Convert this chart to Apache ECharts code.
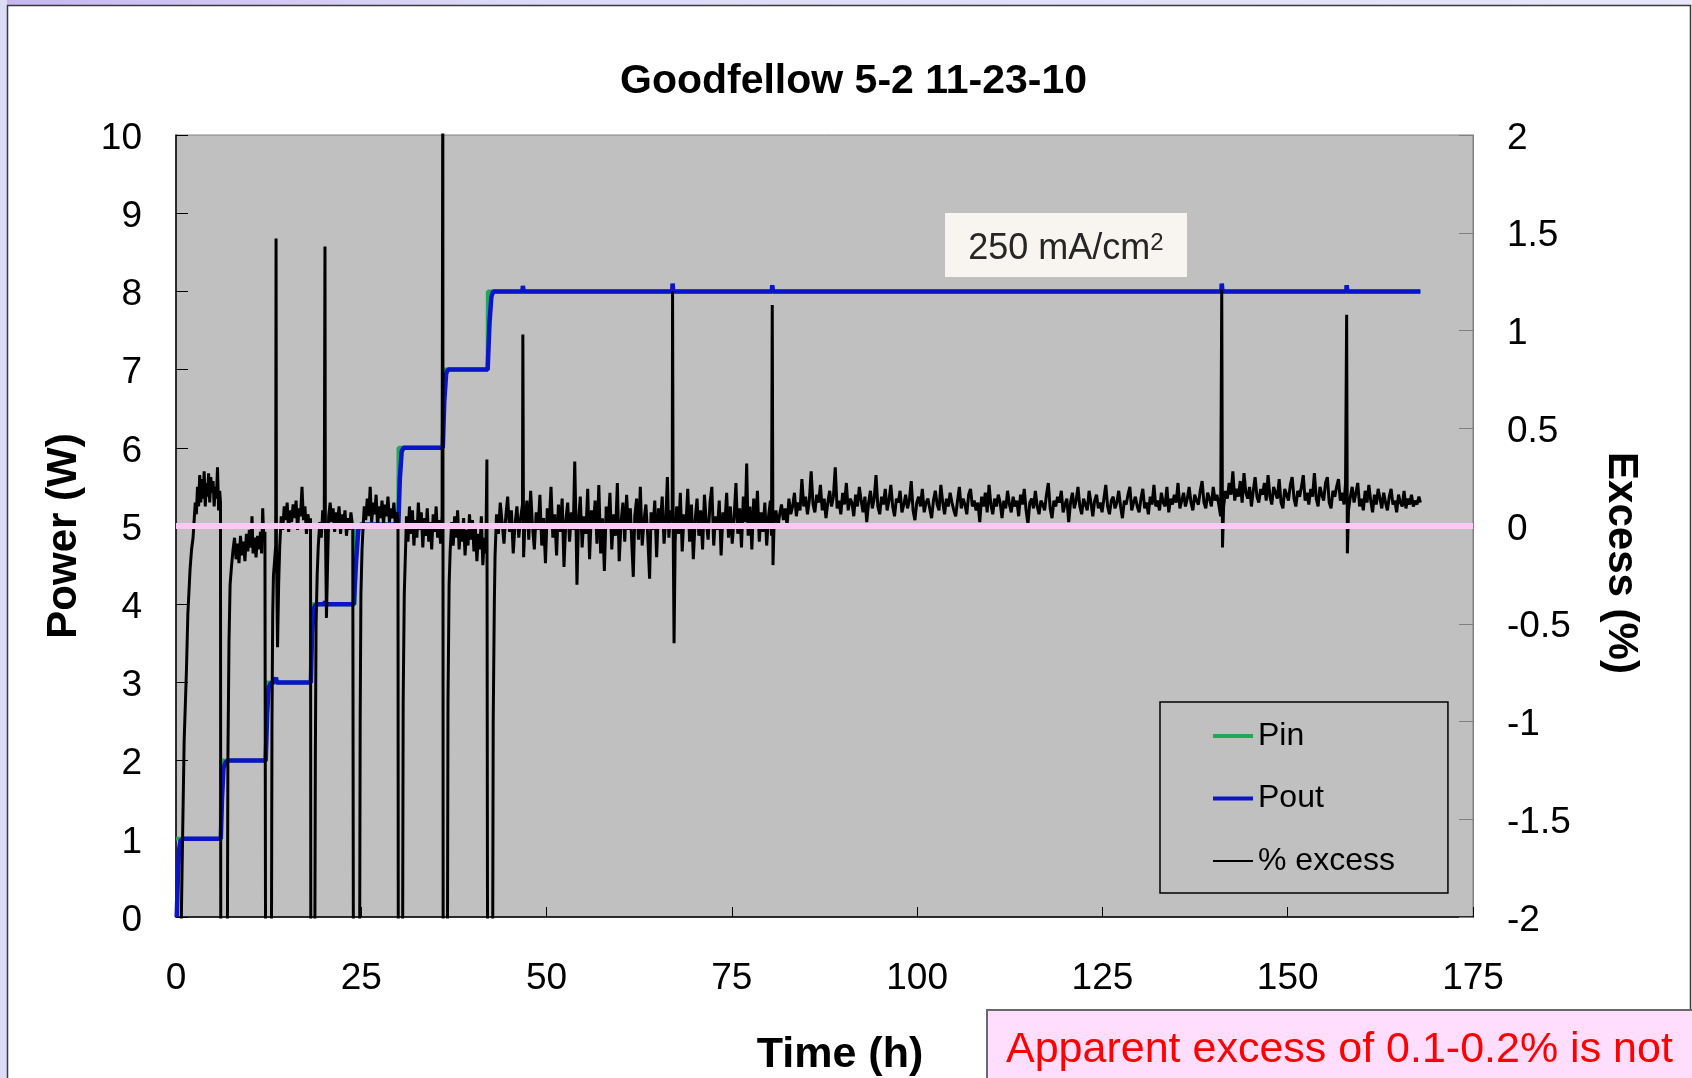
<!DOCTYPE html>
<html>
<head>
<meta charset="utf-8">
<title>Goodfellow 5-2 11-23-10</title>
<script src="https://cdn.jsdelivr.net/npm/echarts@6/dist/echarts.min.js"></script>
<style>
  html, body { margin: 0; padding: 0; background: #ffffff; }
  #chart { width: 1692px; height: 1078px; }
</style>
</head>
<body>
<div id="chart"></div>
<script>
// Input power (W) vs. time (h): step changes of 1 W every ~6 h up to 8 W
const pinData = [
  [0, 1], [6.05, 1], [6.08, 2], [12.15, 2], [12.18, 3], [18.2, 3], [18.23, 4],
  [24.1, 4], [24.13, 5], [30.0, 5], [30.03, 6], [36.0, 6], [36.03, 7],
  [42.05, 7], [42.08, 8], [167.9, 8]
];

// Output power (W): lags each input step slightly
const poutData = [
  [0.1, 0], [0.25, 0.5], [0.4, 0.85], [0.6, 0.97], [0.9, 1.0], [6.05, 1.0],
  [6.2, 1.5], [6.4, 1.9], [6.7, 1.98], [7.0, 2.0], [12.1, 2.0], [12.3, 2.6],
  [12.5, 2.93], [12.8, 2.99], [13.2, 3.0], [13.45, 3.0], [13.5, 3.06], [13.6, 3.0],
  [18.2, 3.0], [18.35, 3.6], [18.55, 3.93], [18.8, 3.99], [19.2, 4.0], [20.05, 4.0],
  [20.1, 4.04], [20.2, 4.0], [24.0, 4.0], [24.3, 4.55], [24.6, 4.95], [24.9, 5.02],
  [30.0, 5.02], [30.2, 5.6], [30.45, 5.95], [30.7, 6.0], [36.0, 6.0], [36.2, 6.6],
  [36.45, 6.95], [36.7, 7.0], [42.05, 7.0], [42.3, 7.6], [42.55, 7.93], [42.8, 8.0],
  [46.75, 8.0], [46.8, 8.07], [46.9, 8.0], [66.95, 8.0], [67.0, 8.1], [67.1, 8.0],
  [80.4, 8.0], [80.45, 8.08], [80.55, 8.0], [141.05, 8.0], [141.1, 8.1], [141.2, 8.0],
  [157.9, 8.0], [157.95, 8.08], [158.05, 8.0], [167.9, 8.0]
];

// Excess (%) = (Pout - Pin) / Pin, right axis; dips at each step leave the axis range
const excessRamp = [
  [0.0, -2.6], [0.5, -2.6], [0.8, -1.8], [1.1, -1.1], [1.4, -0.75], [1.6, -0.45],
  [1.9, -0.22], [2.1, -0.12], [2.3, -0.06], [2.45, 0.03], [2.6, 0.12], [2.75, 0.06],
  [2.9, 0.2], [3.05, 0.1], [3.2, 0.26], [3.35, 0.12], [3.5, 0.24], [3.65, 0.14],
  [3.8, 0.28], [3.95, 0.1], [4.1, 0.22], [4.25, 0.15], [4.4, 0.27], [4.55, 0.12],
  [4.7, 0.25], [4.85, 0.17], [5.0, 0.23], [5.15, 0.1], [5.3, 0.2], [5.45, 0.14],
  [5.6, 0.3], [5.75, 0.08], [5.9, 0.18], [6.0, 0.12],
  [6.05, -2.6], [6.9, -2.6], [7.0, -1.2], [7.15, -0.6], [7.3, -0.3], [7.5, -0.2],
  [7.7, -0.12], [7.9, -0.06], [8.1, -0.17], [8.3, -0.09], [8.5, -0.19], [8.7, -0.05],
  [8.9, -0.15], [9.1, -0.08], [9.3, -0.18], [9.5, -0.04], [9.7, -0.13], [9.9, -0.02],
  [10.1, -0.11], [10.25, 0.05], [10.4, -0.14], [10.6, -0.06], [10.8, -0.16], [11.0, -0.05],
  [11.2, -0.12], [11.4, -0.03], [11.55, -0.14], [11.7, 0.09], [11.85, -0.08], [12.0, -0.03],
  [12.1, -2.6], [12.85, -2.6], [12.95, -1.0], [13.05, -0.45], [13.15, -0.25], [13.3, -0.18],
  [13.45, -0.1], [13.5, 1.47], [13.55, -0.1], [13.7, -0.62], [13.85, -0.3], [14.0, -0.1],
  [14.2, 0.05], [14.4, -0.02], [14.6, 0.1], [14.8, 0.03], [15.0, 0.12], [15.2, -0.03],
  [15.4, 0.08], [15.6, 0.02], [15.8, 0.11], [16.0, 0.04], [16.2, 0.13], [16.4, -0.02],
  [16.6, 0.09], [16.8, 0.05], [17.0, 0.2], [17.2, 0.03], [17.4, 0.1], [17.6, -0.04],
  [17.8, 0.06], [18.0, 0.0], [18.15, 0.04],
  [18.2, -2.6], [18.7, -2.6], [18.8, -1.2], [18.9, -0.5], [19.05, -0.25], [19.2, -0.1],
  [19.4, 0.02], [19.6, -0.06], [19.8, 0.08], [20.0, 0.0], [20.1, 1.43], [20.15, 0.05],
  [20.3, -0.47], [20.45, -0.2], [20.6, 0.05], [20.8, 0.12], [21.0, 0.02], [21.2, 0.09],
  [21.4, -0.03], [21.6, 0.07], [21.8, 0.01], [22.0, 0.1], [22.2, -0.04], [22.4, 0.06],
  [22.6, 0.0], [22.8, 0.08], [23.0, -0.05], [23.2, 0.04], [23.4, -0.02], [23.6, 0.07],
  [23.85, -0.01],
  [23.95, -2.6], [24.75, -2.6], [24.85, -1.0], [24.95, -0.35], [25.1, -0.12], [25.25, 0.0],
  [25.4, 0.1], [25.6, 0.03], [25.8, 0.14], [26.0, 0.05], [26.2, 0.2], [26.4, 0.02],
  [26.6, 0.12], [26.8, 0.06], [27.0, 0.16], [27.2, 0.0], [27.4, 0.1], [27.6, 0.04],
  [27.8, 0.13], [28.0, 0.01], [28.2, 0.11], [28.4, 0.05], [28.6, 0.15], [28.8, 0.02],
  [29.0, 0.09], [29.2, 0.04], [29.4, 0.12], [29.6, 0.0], [29.8, 0.07], [29.95, 0.03],
  [30.0, -2.6], [30.55, -2.6], [30.65, -0.9], [30.8, -0.35], [30.95, -0.15], [31.1, 0.05],
  [31.3, -0.08], [31.5, 0.1], [31.7, -0.04], [31.9, 0.08], [32.1, -0.1], [32.3, 0.03],
  [32.5, -0.06], [32.7, 0.12], [32.9, -0.02], [33.1, 0.07], [33.3, -0.11], [33.5, 0.04],
  [33.7, -0.05], [33.9, 0.09], [34.1, -0.08], [34.3, 0.02], [34.5, -0.12], [34.7, 0.06],
  [34.9, -0.03], [35.1, 0.1], [35.3, -0.06], [35.5, 0.03], [35.7, -0.09], [35.9, 0.05],
  [36.0, 2.4], [36.05, -2.6], [36.6, -2.6], [36.7, -0.9], [36.85, -0.3], [37.0, -0.12],
  [37.2, 0.02], [37.4, -0.1], [37.6, 0.05], [37.8, -0.06], [38.0, 0.08], [38.2, -0.12],
  [38.4, 0.0], [38.6, -0.08], [38.8, 0.04], [39.0, -0.15], [39.2, -0.02], [39.4, -0.1],
  [39.6, 0.06], [39.8, -0.07], [40.0, 0.03], [40.2, -0.13], [40.4, -0.01], [40.6, -0.18],
  [40.8, -0.04], [41.0, -0.12], [41.2, 0.05], [41.4, -0.2], [41.6, -0.06], [41.8, -0.14],
  [41.95, 0.34], [42.05, -2.6], [42.7, -2.6], [42.8, -1.0], [42.95, -0.4], [43.05, -0.15]
];

// Excess (%) at constant 8 W input, before the baseline shift near 80 h
const excessHoldEarly = [
  [43.25, 0.06], [43.5, -0.04], [43.75, 0.12], [44.0, 0.02], [44.25, -0.09], [44.5, 0.05],
  [44.75, 0.15], [45.0, -0.03], [45.25, 0.08], [45.5, -0.14], [45.75, 0.01], [46.0, 0.1],
  [46.25, -0.06], [46.5, 0.04], [46.75, 0.11], [46.8, 0.98], [46.9, -0.16], [47.1, 0.03],
  [47.35, 0.13], [47.6, -0.07], [47.85, 0.18], [48.1, 0.0], [48.35, -0.12], [48.6, 0.07],
  [48.85, -0.02], [49.1, 0.16], [49.35, -0.1], [49.6, 0.04], [49.85, -0.19], [50.1, 0.09],
  [50.35, 0.01], [50.6, 0.2], [50.85, -0.06], [51.1, 0.06], [51.35, -0.15], [51.6, 0.11],
  [51.85, -0.03], [52.1, 0.14], [52.35, -0.21], [52.6, 0.03], [52.85, 0.12], [53.1, -0.08],
  [53.35, 0.07], [53.6, -0.02], [53.8, 0.33], [54.0, -0.05], [54.1, -0.3], [54.3, 0.02],
  [54.55, 0.15], [54.8, -0.11], [55.05, 0.05], [55.3, -0.04], [55.55, 0.19], [55.8, -0.17],
  [56.05, 0.08], [56.3, -0.01], [56.55, 0.13], [56.8, -0.09], [57.05, 0.21], [57.3, -0.14],
  [57.55, 0.04], [57.8, -0.23], [58.05, 0.1], [58.3, 0.0], [58.55, 0.17], [58.8, -0.12],
  [59.05, 0.06], [59.3, -0.05], [59.55, 0.22], [59.8, -0.18], [60.05, 0.02], [60.3, 0.12],
  [60.55, -0.08], [60.8, 0.16], [61.05, -0.02], [61.3, 0.09], [61.55, -0.13], [61.7, -0.26],
  [61.9, 0.05], [62.15, 0.14], [62.4, -0.07], [62.65, 0.2], [62.9, -0.1], [63.15, 0.03],
  [63.4, 0.11], [63.65, -0.05], [63.9, -0.27], [64.1, 0.07], [64.35, -0.02], [64.6, 0.13],
  [64.85, -0.16], [65.1, 0.09], [65.35, 0.01], [65.6, 0.15], [65.85, -0.09], [66.1, 0.04],
  [66.3, 0.25], [66.5, -0.06], [66.75, 0.08], [66.95, 0.02], [67.0, 1.2], [67.08, 0.0],
  [67.2, -0.6], [67.35, -0.08], [67.55, 0.1], [67.8, -0.04], [68.05, 0.17], [68.3, -0.13],
  [68.55, 0.06], [68.8, 0.0], [69.05, 0.19], [69.3, -0.08], [69.55, 0.11], [69.8, -0.17],
  [70.05, 0.03], [70.3, 0.14], [70.55, -0.05], [70.8, 0.08], [71.05, -0.12], [71.3, 0.16],
  [71.55, 0.02], [71.8, -0.07], [72.05, 0.12], [72.3, 0.2], [72.55, -0.1], [72.8, 0.05],
  [73.05, -0.02], [73.3, 0.13], [73.55, -0.15], [73.8, 0.07], [74.05, 0.01], [74.3, 0.17],
  [74.55, -0.06], [74.8, 0.1], [75.05, -0.09], [75.3, 0.04], [75.55, 0.22], [75.8, -0.04],
  [76.05, 0.09], [76.3, -0.11], [76.55, 0.15], [76.8, 0.02], [77.0, 0.32], [77.2, -0.05],
  [77.45, 0.1], [77.7, -0.12], [77.95, 0.14], [78.2, 0.0], [78.45, 0.18], [78.7, -0.08],
  [78.95, 0.07], [79.2, -0.03], [79.45, 0.12], [79.7, -0.1], [79.95, 0.05], [80.2, 0.13],
  [80.35, -0.05], [80.45, 1.13], [80.55, -0.2]
];

// Excess (%) at constant 8 W input, after the baseline shift
const excessHoldLate = [
  [80.7, 0.02], [80.95, 0.08], [81.2, -0.01], [81.45, 0.06], [81.7, 0.11], [81.95, 0.03],
  [82.2, 0.09], [82.45, 0.0], [82.7, 0.14], [82.95, 0.06], [83.2, 0.1], [83.45, 0.17],
  [83.7, 0.05], [83.95, 0.12], [84.2, 0.08], [84.45, 0.24], [84.7, 0.1], [84.95, 0.15],
  [85.2, 0.06], [85.45, 0.13], [85.7, 0.28], [85.95, 0.11], [86.2, 0.07], [86.45, 0.16],
  [86.7, 0.12], [86.95, 0.21], [87.2, 0.08], [87.45, 0.14], [87.7, 0.04], [87.95, 0.12],
  [88.2, 0.18], [88.45, 0.1], [88.7, 0.15], [88.95, 0.3], [89.2, 0.09], [89.45, 0.13],
  [89.7, 0.06], [89.95, 0.17], [90.2, 0.11], [90.45, 0.22], [90.7, 0.08], [90.95, 0.14],
  [91.2, 0.12], [91.45, 0.05], [91.7, 0.16], [91.95, 0.1], [92.2, 0.2], [92.45, 0.13],
  [92.7, 0.07], [92.95, 0.15], [93.2, 0.02], [93.45, 0.12], [93.7, 0.18], [93.95, 0.09],
  [94.2, 0.14], [94.45, 0.26], [94.7, 0.1], [94.95, 0.06], [95.2, 0.15], [95.45, 0.11],
  [95.7, 0.19], [95.95, 0.08], [96.2, 0.13], [96.45, 0.21], [96.7, 0.1], [96.95, 0.05],
  [97.2, 0.14], [97.45, 0.12], [97.7, 0.18], [97.95, 0.07], [98.2, 0.11], [98.45, 0.16],
  [98.7, 0.09], [98.95, 0.13], [99.2, 0.23], [99.45, 0.08], [99.7, 0.03], [99.95, 0.12],
  [100.2, 0.15], [100.45, 0.1], [100.7, 0.19], [100.95, 0.07], [101.2, 0.12], [101.45, 0.14],
  [101.7, 0.09], [101.95, 0.04], [102.2, 0.13], [102.45, 0.18], [102.7, 0.11], [102.95, 0.08],
  [103.2, 0.21], [103.45, 0.12], [103.7, 0.06], [103.95, 0.14], [104.2, 0.1], [104.45, 0.17],
  [104.7, 0.12], [104.95, 0.08], [105.2, 0.05], [105.45, 0.13], [105.7, 0.2], [105.95, 0.09],
  [106.2, 0.14], [106.45, 0.11], [106.7, 0.06], [106.95, 0.16], [107.2, 0.19], [107.45, 0.1],
  [107.7, 0.13], [107.95, 0.08], [108.2, 0.12], [108.45, 0.02], [108.7, 0.15], [108.95, 0.1],
  [109.2, 0.17], [109.45, 0.07], [109.7, 0.21], [109.95, 0.11], [110.2, 0.06], [110.45, 0.14],
  [110.7, 0.1], [110.95, 0.16], [111.2, 0.12], [111.45, 0.04], [111.7, 0.13], [111.95, 0.09],
  [112.2, 0.18], [112.45, 0.11], [112.7, 0.07], [112.95, 0.15], [113.2, 0.1], [113.45, 0.13],
  [113.7, 0.05], [113.95, 0.16], [114.2, 0.11], [114.45, 0.19], [114.7, 0.08], [114.95, 0.01],
  [115.2, 0.12], [115.45, 0.14], [115.7, 0.09], [115.95, 0.18], [116.2, 0.1], [116.45, 0.06],
  [116.7, 0.13], [116.95, 0.11], [117.2, 0.08], [117.45, 0.16], [117.7, 0.22], [117.95, 0.09],
  [118.2, 0.04], [118.45, 0.13], [118.7, 0.1], [118.95, 0.15], [119.2, 0.12], [119.45, 0.18],
  [119.7, 0.07], [119.95, 0.11], [120.2, 0.14], [120.45, 0.02], [120.7, 0.12], [120.95, 0.17],
  [121.2, 0.09], [121.45, 0.13], [121.7, 0.2], [121.95, 0.1], [122.2, 0.06], [122.45, 0.14],
  [122.7, 0.11], [122.95, 0.08], [123.2, 0.18], [123.45, 0.12], [123.7, 0.05], [123.95, 0.13],
  [124.2, 0.16], [124.45, 0.09], [124.7, 0.12], [124.95, 0.07], [125.2, 0.14], [125.45, 0.21],
  [125.7, 0.1], [125.95, 0.06], [126.2, 0.13], [126.45, 0.15], [126.7, 0.09], [126.95, 0.12],
  [127.2, 0.18], [127.45, 0.1], [127.7, 0.04], [127.95, 0.13], [128.2, 0.11], [128.45, 0.16],
  [128.7, 0.2], [128.95, 0.08], [129.2, 0.12], [129.45, 0.15], [129.7, 0.1], [129.95, 0.07],
  [130.2, 0.14], [130.45, 0.19], [130.7, 0.09], [130.95, 0.12], [131.2, 0.06], [131.45, 0.15],
  [131.7, 0.11], [131.95, 0.21], [132.2, 0.1], [132.45, 0.13], [132.7, 0.08], [132.95, 0.17],
  [133.2, 0.12], [133.45, 0.1], [133.7, 0.2], [133.95, 0.07], [134.2, 0.14], [134.45, 0.11],
  [134.7, 0.16], [134.95, 0.12], [135.2, 0.22], [135.45, 0.09], [135.7, 0.13], [135.95, 0.17],
  [136.2, 0.1], [136.45, 0.14], [136.7, 0.2], [136.95, 0.12], [137.2, 0.08], [137.45, 0.16],
  [137.7, 0.13], [137.95, 0.11], [138.2, 0.18], [138.45, 0.23], [138.7, 0.12], [138.95, 0.09],
  [139.2, 0.17], [139.45, 0.14], [139.7, 0.1], [139.95, 0.2], [140.2, 0.13], [140.45, 0.16],
  [140.7, 0.11], [140.95, 0.05], [141.1, 1.21], [141.2, -0.11], [141.35, 0.1], [141.6, 0.18],
  [141.85, 0.14], [142.1, 0.22], [142.35, 0.16], [142.6, 0.28], [142.85, 0.13], [143.1, 0.19],
  [143.35, 0.15], [143.6, 0.23], [143.85, 0.12], [144.1, 0.27], [144.35, 0.17], [144.6, 0.14],
  [144.85, 0.2], [145.1, 0.1], [145.35, 0.18], [145.6, 0.25], [145.85, 0.15], [146.1, 0.12],
  [146.35, 0.19], [146.6, 0.16], [146.85, 0.22], [147.1, 0.13], [147.35, 0.26], [147.6, 0.15],
  [147.85, 0.11], [148.1, 0.2], [148.35, 0.17], [148.6, 0.14], [148.85, 0.24], [149.1, 0.12],
  [149.35, 0.09], [149.6, 0.19], [149.85, 0.16], [150.1, 0.13], [150.35, 0.21], [150.6, 0.25],
  [150.85, 0.14], [151.1, 0.1], [151.35, 0.18], [151.6, 0.15], [151.85, 0.2], [152.1, 0.26],
  [152.35, 0.13], [152.6, 0.17], [152.85, 0.11], [153.1, 0.19], [153.35, 0.15], [153.6, 0.27],
  [153.85, 0.14], [154.1, 0.1], [154.35, 0.2], [154.6, 0.16], [154.85, 0.13], [155.1, 0.22],
  [155.35, 0.25], [155.6, 0.12], [155.85, 0.09], [156.1, 0.18], [156.35, 0.15], [156.6, 0.2],
  [156.85, 0.24], [157.1, 0.13], [157.35, 0.17], [157.6, 0.11], [157.8, 0.22], [157.95, 1.08],
  [158.05, -0.14], [158.2, 0.08], [158.45, 0.15], [158.7, 0.2], [158.95, 0.12], [159.2, 0.17],
  [159.45, 0.22], [159.7, 0.1], [159.95, 0.14], [160.2, 0.08], [160.45, 0.18], [160.7, 0.12],
  [160.95, 0.21], [161.2, 0.13], [161.45, 0.07], [161.7, 0.16], [161.95, 0.11], [162.2, 0.19],
  [162.45, 0.14], [162.7, 0.09], [162.95, 0.17], [163.2, 0.12], [163.45, 0.08], [163.7, 0.15],
  [163.95, 0.19], [164.2, 0.11], [164.45, 0.13], [164.7, 0.07], [164.95, 0.16], [165.2, 0.12],
  [165.45, 0.1], [165.7, 0.18], [165.95, 0.09], [166.2, 0.14], [166.45, 0.11], [166.7, 0.16],
  [166.95, 0.1], [167.2, 0.13], [167.45, 0.11], [167.7, 0.15], [167.9, 0.12]
];

// Reference line at zero excess
const zeroLine = [[0, 0], [175, 0]];

const seriesNames = ['Pin', 'Pout', '% excess'];
const chartTitle = 'Goodfellow 5-2 11-23-10';
const densityLabel = '250 mA/cm{sup|2}';
const noteText = 'Apparent excess of 0.1-0.2% is not';

const FONT = '"Liberation Sans", Arial, Helvetica, sans-serif';

// value labels on the vertical axes sit a few pixels below their ticks
const yLabel = {
  formatter: '{v|{value}}',
  rich: { v: { fontFamily: FONT, fontSize: 37, color: '#000', padding: [7, 0, 0, 0] } }
};

const chart = echarts.init(document.getElementById('chart'), null, { renderer: 'canvas' });

chart.setOption({
  animation: false,
  backgroundColor: '#ffffff',
  title: {
    text: chartTitle,
    left: 620,
    top: 61,
    padding: 0,
    textStyle: { fontFamily: FONT, fontSize: 41, fontWeight: 'bold', color: '#000' }
  },
  grid: {
    left: 176, right: 219, top: 135, bottom: 161,
    show: true,
    backgroundColor: '#C0C0C0',
    borderColor: '#808080',
    borderWidth: 1,
    containLabel: false,
    outerBoundsMode: 'none'
  },
  legend: {
    data: [
      { name: 'Pin', lineStyle: { width: 4 } },
      { name: 'Pout', lineStyle: { width: 4 } },
      { name: '% excess', lineStyle: { width: 2 } }
    ],
    orient: 'vertical',
    left: 1160,
    top: 702,
    padding: [17, 53, 15, 51],
    itemWidth: 40,
    itemHeight: 14,
    itemGap: 28.5,
    itemTextGap: 0,
    itemStyle: { opacity: 0 },
    borderColor: '#000',
    borderWidth: 1.5,
    backgroundColor: 'transparent',
    selectedMode: false,
    textStyle: { fontFamily: FONT, fontSize: 32, lineHeight: 34, color: '#000' }
  },
  xAxis: {
    type: 'value',
    min: 0, max: 175, interval: 25,
    name: 'Time (h)',
    nameLocation: 'middle',
    nameGap: 117,
    nameTextStyle: { fontFamily: FONT, fontSize: 43, fontWeight: 'bold', color: '#000', padding: [0, 0, 0, 31] },
    axisLine: { show: true, onZero: false, lineStyle: { color: '#000', width: 1.5 } },
    axisTick: { show: true, inside: true, length: 10, lineStyle: { color: '#000', width: 1 } },
    axisLabel: { fontFamily: FONT, fontSize: 37, color: '#000', margin: 43 },
    splitLine: { show: false }
  },
  yAxis: [
    {
      type: 'value',
      position: 'left',
      min: 0, max: 10, interval: 1,
      name: 'Power (W)',
      nameLocation: 'middle',
      nameGap: 91,
      nameTextStyle: { fontFamily: FONT, fontSize: 42, fontWeight: 'bold', color: '#000', padding: [0, 20, 0, 0] },
      axisLine: { show: true, onZero: false, lineStyle: { color: '#000', width: 1.5 } },
      axisTick: { show: true, inside: true, length: 12, lineStyle: { color: '#000', width: 1 } },
      axisLabel: Object.assign({ margin: 34 }, yLabel),
      splitLine: { show: false }
    },
    {
      type: 'value',
      position: 'right',
      min: -2, max: 2, interval: 0.5,
      axisLine: { show: true, onZero: false, lineStyle: { color: '#808080', width: 1 } },
      axisTick: { show: true, inside: true, length: 14, lineStyle: { color: '#808080', width: 1 } },
      axisLabel: Object.assign({ margin: 34 }, yLabel),
      splitLine: { show: false }
    }
  ],
  series: [
    {
      name: 'Pin', type: 'line', yAxisIndex: 0, data: pinData,
      symbol: 'none', silent: true, z: 2,
      color: '#1FA85A',
      lineStyle: { color: '#1FA85A', width: 4 }
    },
    {
      name: 'Pout', type: 'line', yAxisIndex: 0, data: poutData,
      symbol: 'none', silent: true, z: 3,
      color: '#0A14C8',
      lineStyle: { color: '#0A14C8', width: 4.5 }
    },
    {
      name: '% excess', type: 'line', yAxisIndex: 1,
      data: excessRamp.concat(excessHoldEarly, excessHoldLate),
      symbol: 'none', silent: true, z: 4, clip: true,
      color: '#000',
      lineStyle: { color: '#000', width: 3 }
    },
    {
      name: 'zero', type: 'line', yAxisIndex: 1, data: zeroLine,
      symbol: 'none', silent: true, z: 6,
      lineStyle: { color: '#FFC6F6', width: 6 }
    }
  ],
  graphic: [
    // slide frame around the white chart area
    { type: 'rect', silent: true, z: 0, shape: { x: 0, y: 0, width: 1692, height: 5 },
      style: { fill: new echarts.graphic.LinearGradient(0, 0, 1, 0, [
        { offset: 0, color: '#C7B6F2' }, { offset: 0.3, color: '#DDDAF8' }, { offset: 1, color: '#E6E6FC' }]) } },
    { type: 'rect', silent: true, z: 0, shape: { x: 0, y: 0, width: 7, height: 1078 },
      style: { fill: '#DCDCF7' } },
    { type: 'polyline', silent: true, z: 1, shape: { points: [[7.5, 1078], [7.5, 5.5], [1690.5, 5.5], [1690.5, 1010]] },
      style: { stroke: '#3a3a3a', lineWidth: 1.5, fill: null } },
    // current density label
    { type: 'rect', silent: true, z: 50, shape: { x: 945, y: 213, width: 242, height: 64 },
      style: { fill: '#F8F4EF' } },
    { type: 'text', silent: true, z: 51, x: 1066, y: 249,
      style: {
        text: densityLabel, font: '36px ' + FONT, fill: '#262626', align: 'center', verticalAlign: 'middle',
        rich: { sup: { fontFamily: FONT, fontSize: 24, fill: '#262626', verticalAlign: 'top', lineHeight: 24 } }
      } },
    // right axis title, reading top to bottom
    { type: 'text', silent: true, z: 51, x: 1621, y: 563, rotation: -Math.PI / 2,
      style: { text: 'Excess (%)', font: 'bold 42px ' + FONT, fill: '#000', align: 'center', verticalAlign: 'middle' } },
    // note box at the bottom
    { type: 'rect', silent: true, z: 50, shape: { x: 987, y: 1010, width: 710, height: 72 },
      style: { fill: '#FFDDFD', stroke: '#6a6a6a', lineWidth: 2 } },
    { type: 'text', silent: true, z: 51, x: 1006, y: 1050,
      style: { text: noteText, font: '43px ' + FONT, fill: '#FF0000', align: 'left', verticalAlign: 'middle' } }
  ]
});
</script>
</body>
</html>
